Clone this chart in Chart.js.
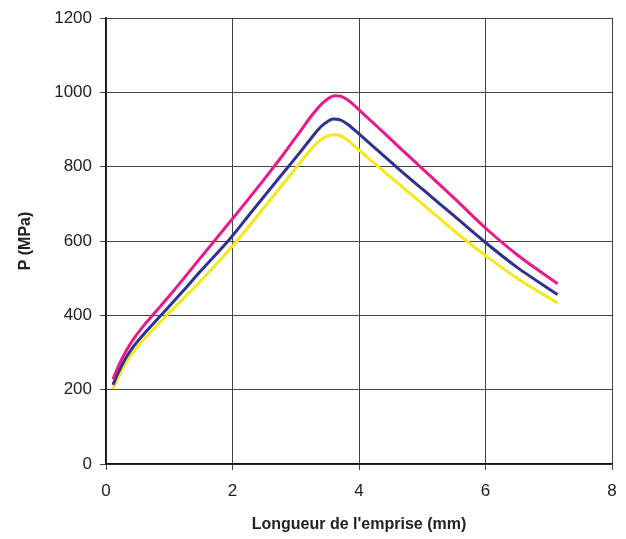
<!DOCTYPE html>
<html lang="fr">
<head>
<meta charset="UTF-8">
<title>P (MPa) - Longueur de l'emprise</title>
<script src="https://cdn.jsdelivr.net/npm/chart.js"></script>
<style>
  body { margin: 0; background: #fff; }
  #wrap { width: 626px; height: 539px; }
</style>
</head>
<body>
<div id="wrap"><canvas id="chart" width="626" height="539"></canvas></div>
<script>
// Longueur de l'emprise (mm) / P (MPa)
const pinkX   = [0.11, 0.2, 0.32, 0.45, 0.6, 0.75, 1.0, 1.5, 2.0, 2.5, 2.8, 3.07, 3.25, 3.4, 3.52, 3.62, 3.72, 3.85, 4.0, 4.3, 4.65, 5.0, 5.5, 6.0, 6.5, 7.14];
const pinkY   = [228, 265, 305, 340, 373, 403, 452, 556, 660, 766, 832, 895, 937, 967, 984, 991, 989, 976, 953, 906, 850, 795, 716, 635, 563, 485];

const blueX   = [0.11, 0.2, 0.32, 0.45, 0.6, 0.88, 1.2, 1.5, 1.93, 2.3, 2.7, 3.07, 3.25, 3.4, 3.5, 3.59, 3.7, 3.83, 4.0, 4.3, 4.62, 5.0, 5.5, 5.97, 6.5, 7.14];
const blueY   = [213, 248, 287, 320, 350, 402, 462, 520, 600, 678, 762, 839, 878, 908, 921, 928, 926, 913, 888, 843, 795, 740, 668, 600, 529, 456];

const yellowX = [0.11, 0.2, 0.32, 0.45, 0.6, 0.96, 1.5, 2.07, 2.5, 3.02, 3.2, 3.35, 3.47, 3.59, 3.7, 3.83, 4.0, 4.36, 5.0, 5.7, 6.0, 6.5, 7.14];
const yellowY = [202, 236, 274, 306, 335, 400, 493, 600, 690, 800, 838, 866, 880, 886, 884, 870, 845, 792, 700, 600, 561, 500, 433];

const xTicks = [0, 2, 4, 6, 8];
const yTicks = [0, 200, 400, 600, 800, 1000, 1200];

function pts(xs, ys) {
  return xs.map((x, i) => ({ x: x, y: ys[i] }));
}

function series(xs, ys, color) {
  return {
    data: pts(xs, ys),
    borderColor: color,
    borderWidth: 3,
    pointRadius: 0,
    fill: false,
    cubicInterpolationMode: 'monotone'
  };
}

const tickFont = { family: 'Liberation Sans, Arial, sans-serif', size: 17 };
const titleFont = { family: 'Liberation Sans, Arial, sans-serif', size: 16, weight: 'bold' };

new Chart(document.getElementById('chart').getContext('2d'), {
  type: 'line',
  data: {
    datasets: [
      series(pinkX, pinkY, '#e8198b'),
      series(blueX, blueY, '#2e3192'),
      series(yellowX, yellowY, '#f5e81c')
    ]
  },
  options: {
    responsive: false,
    animation: false,
    layout: { padding: { top: 18, right: 14, bottom: 0, left: 0 } },
    plugins: { legend: { display: false }, tooltip: { enabled: false } },
    scales: {
      x: {
        type: 'linear',
        min: 0,
        max: 8,
        afterFit: s => { s.height = 75; s.paddingLeft = 0; s.paddingRight = 0; },
        afterBuildTicks: s => { s.ticks = xTicks.map(v => ({ value: v })); },
        grid: { color: '#444', lineWidth: 1, tickLength: 6 },
        border: { color: '#111', width: 1.5 },
        ticks: { font: tickFont, color: '#222', padding: 11, maxRotation: 0, callback: v => String(v) },
        title: { display: true, text: "Longueur de l'emprise (mm)", font: titleFont, color: '#222', padding: { top: 0, bottom: 5 } }
      },
      y: {
        min: 0,
        max: 1200,
        afterFit: s => { s.width = 106; s.paddingTop = 0; s.paddingBottom = 0; },
        afterBuildTicks: s => { s.ticks = yTicks.map(v => ({ value: v })); },
        grid: { color: '#444', lineWidth: 1, tickLength: 6 },
        border: { color: '#111', width: 1.5 },
        ticks: { font: tickFont, color: '#222', padding: 8, callback: v => String(v) },
        title: { display: true, text: 'P (MPa)', font: titleFont, color: '#222', padding: { top: 16, bottom: 0 } }
      }
    }
  }
});
</script>
</body>
</html>
